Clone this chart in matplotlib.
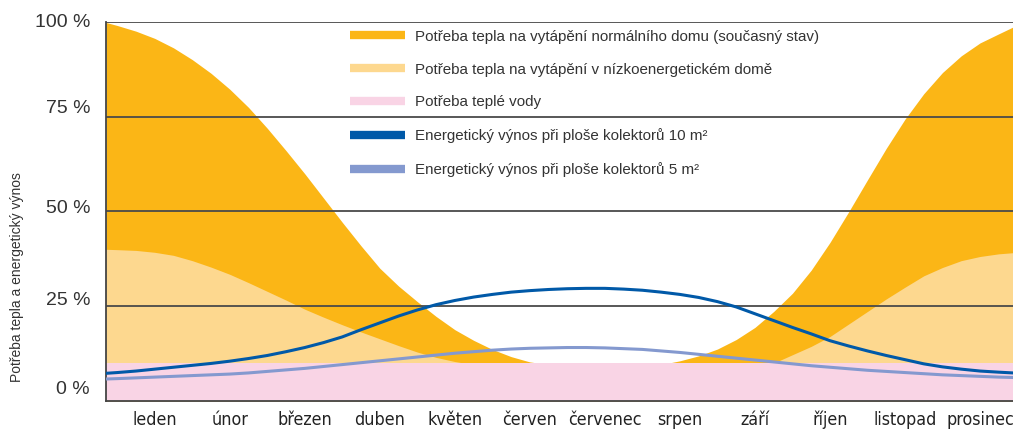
import matplotlib
matplotlib.use('Agg')
import matplotlib.pyplot as plt
import matplotlib.transforms as mtransforms
from matplotlib import font_manager
from matplotlib.lines import Line2D

plt.rcParams['font.family'] = ['Liberation Sans', 'DejaVu Sans']

# x in month units (0 = leden ... 11 = prosinec), values in %
x = [-0.65, -0.5, -0.25,
     0, 0.25, 0.5, 0.75, 1, 1.25, 1.5, 1.75, 2, 2.25, 2.5, 2.75,
     3, 3.25, 3.5, 3.75, 4, 4.25, 4.5, 4.75, 5, 5.25, 5.5, 5.75,
     6, 6.25, 6.5, 6.75, 7, 7.25, 7.5, 7.75, 8, 8.25, 8.5, 8.75,
     9, 9.25, 9.5, 9.75, 10, 10.25, 10.5, 10.75, 11, 11.25, 11.44]

normal_house = [99.8, 99.0, 97.5,
                95.6, 93.1, 90.0, 86.4, 82.2, 77.4, 71.9, 66.0, 59.9, 53.5, 47.1, 40.9,
                35.0, 30.3, 26.2, 22.3, 18.8, 16.0, 13.6, 11.7, 10.3, 9.6, 9.5, 9.5,
                9.5, 9.5, 9.5, 9.6, 10.6, 11.9, 13.7, 16.2, 19.4, 23.6, 28.4, 34.5,
                41.8, 49.9, 58.3, 66.6, 74.3, 81.0, 86.6, 91.0, 94.4, 96.8, 98.6]
low_energy = [40.0, 39.9, 39.7,
              39.2, 38.4, 37.0, 35.3, 33.4, 31.2, 28.9, 26.6, 24.2, 22.1, 20.1, 18.2,
              16.4, 14.6, 12.9, 11.5, 10.4, 9.6, 9.5, 9.5, 9.5, 9.5, 9.5, 9.5,
              9.5, 9.5, 9.5, 9.5, 9.5, 9.5, 9.5, 9.5, 9.5, 10.0, 12.2, 14.4,
              17.0, 20.3, 23.6, 26.9, 30.0, 33.0, 35.2, 37.0, 38.1, 38.8, 39.1]
hot_water = [9.9] * len(x)
yield_10 = [7.3, 7.5, 7.9,
            8.4, 8.9, 9.4, 9.9, 10.5, 11.2, 12.0, 13.0, 14.1, 15.4, 16.9, 18.8,
            20.6, 22.4, 24.0, 25.4, 26.5, 27.4, 28.1, 28.7, 29.1, 29.4, 29.6, 29.7,
            29.7, 29.5, 29.2, 28.7, 28.1, 27.3, 26.2, 24.8, 23.0, 21.2, 19.4, 17.7,
            15.9, 14.5, 13.2, 12.0, 10.9, 9.8, 9.0, 8.4, 7.9, 7.6, 7.4]
yield_5 = [5.8, 5.9, 6.1,
           6.3, 6.5, 6.7, 6.9, 7.1, 7.4, 7.8, 8.2, 8.6, 9.1, 9.6, 10.1,
           10.6, 11.1, 11.6, 12.1, 12.6, 13.0, 13.4, 13.7, 13.9, 14.0, 14.1, 14.1,
           14.0, 13.8, 13.6, 13.2, 12.8, 12.3, 11.8, 11.3, 10.8, 10.3, 9.8, 9.3,
           8.9, 8.5, 8.1, 7.8, 7.5, 7.2, 6.9, 6.7, 6.5, 6.3, 6.2]

months = ['leden', 'únor', 'březen', 'duben', 'květen', 'červen', 'červenec',
          'srpen', 'září', 'říjen', 'listopad', 'prosinec']
yticks = [0, 25, 50, 75, 100]
ytick_labels = ['0 %', '25 %', '50 %', '75 %', '100 %']
ylabel_lift = [12, 6, 3, 8, -1]  # px, labels sit a bit above their gridlines

labels = ['Potřeba tepla na vytápění normálního domu (současný stav)',
          'Potřeba tepla na vytápění v nízkoenergetickém domě',
          'Potřeba teplé vody',
          'Energetický výnos při ploše kolektorů 10 m²',
          'Energetický výnos při ploše kolektorů 5 m²']
colors = ['#FBB616', '#FDD88F', '#F9D4E5', '#0059A8', '#8499CF']

# a narrow font for the month names, if one is installed
narrow = None
for f in font_manager.fontManager.ttflist:
    if f.name == 'Liberation Sans Narrow' and f.style == 'normal' and f.weight in (400, 'normal', 'regular'):
        narrow = f.fname
if narrow is None:
    for f in font_manager.fontManager.ttflist:
        if f.name == 'DejaVu Sans' and f.stretch == 'condensed' and f.style == 'normal' \
                and f.weight in (400, 'normal', 'regular'):
            narrow = f.fname
if narrow:
    month_font = font_manager.FontProperties(fname=narrow, size=12.8)
else:
    month_font = font_manager.FontProperties(family='Liberation Sans', size=12)

fig = plt.figure(figsize=(10.13, 4.32), dpi=100)
ax = fig.add_axes([106 / 1013, 31 / 432, 907 / 1013, 379.3 / 432])

ax.fill_between(x, 0, normal_house, color=colors[0], lw=0, zorder=1)
ax.fill_between(x, 0, low_energy, color=colors[1], lw=0, zorder=1.1)
ax.fill_between(x, 0, hot_water, color=colors[2], lw=0, zorder=1.2)

for yv in yticks[1:]:
    ax.axhline(yv, color='#4a4a4a', lw=1.3, zorder=2)

ax.plot(x, yield_10, color=colors[3], lw=2.2, zorder=3)
ax.plot(x, yield_5, color=colors[4], lw=2.2, zorder=3)

ax.set_xlim(-0.65, 11.44)
ax.set_ylim(0, 100)
ax.set_xticks(range(12))
ax.set_xticklabels(months, fontproperties=month_font, color='#222222', va='baseline')
ax.tick_params(axis='x', length=0, pad=17.5)
ax.set_yticks([])

trans = mtransforms.blended_transform_factory(ax.transAxes, ax.transData)
for yv, lab, lift in zip(yticks, ytick_labels, ylabel_lift):
    off = mtransforms.ScaledTranslation(0, lift / 100, fig.dpi_scale_trans)
    ax.text(-16 / 907, yv, lab, transform=trans + off, ha='right', va='center',
            fontsize=14, color='#333333')

for s in ['top', 'right']:
    ax.spines[s].set_visible(False)
for s in ['left', 'bottom']:
    ax.spines[s].set_color('#444444')
    ax.spines[s].set_linewidth(1.3)

fig.text(17.5 / 1013, 1 - 277 / 432, 'Potřeba tepla a energetický výnos', rotation=90,
         ha='center', va='center', fontsize=10, color='#333333')

handles = [Line2D([], [], color=c, lw=6, solid_capstyle='butt') for c in colors]
leg = ax.legend(handles, labels, loc='upper left', bbox_to_anchor=(0.2624, 0.995),
                frameon=False, fontsize=10.9, handlelength=3.6, handletextpad=0.66,
                labelspacing=1.25, borderaxespad=0)
for t in leg.get_texts():
    t.set_color('#333333')

fig.savefig('out.png', dpi=100)
